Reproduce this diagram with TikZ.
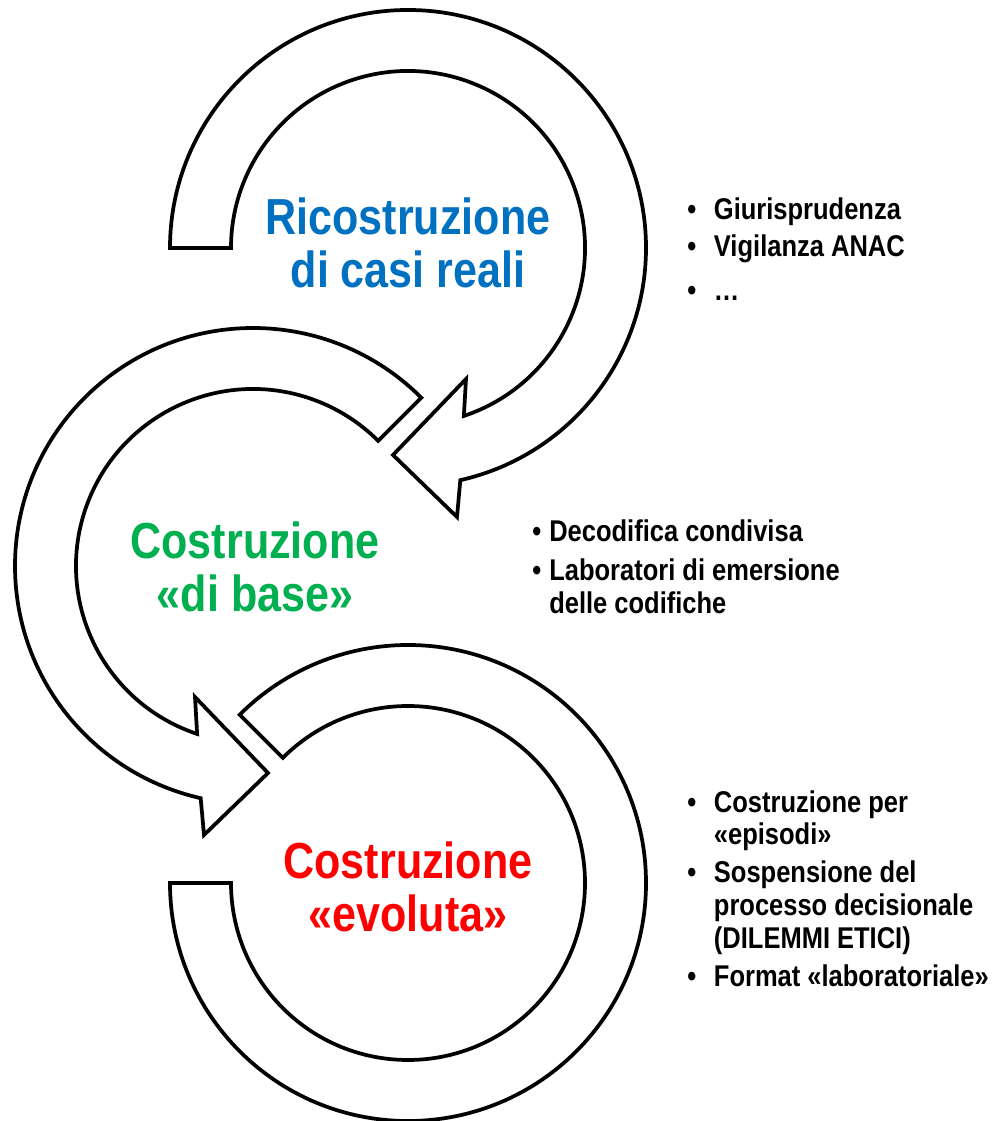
\documentclass[tikz,border=0pt]{standalone}
\usepackage{fontspec}
\setmainfont{Liberation Sans}
\newfontfamily\titlefont[FakeStretch=0.85]{Liberation Sans}
\newfontfamily\listfont[FakeStretch=0.85]{Liberation Sans}
\definecolor{ricblue}{RGB}{0,112,192}
\definecolor{basegreen}{RGB}{0,176,80}
\definecolor{evored}{RGB}{255,0,0}
\tikzset{
	x=0.75pt, y=0.75pt, % one unit is one pixel of the slide
	band/.style={draw, line width=2.8pt, fill=white, line join=miter}, % the circular block arrows
	title/.style={inner sep=0pt, align=center, font=\titlefont\bfseries\fontsize{38pt}{40pt}\selectfont}, % big text in the circles
	bullets/.style={inner sep=0pt, align=left, anchor=north west, font=\listfont\bfseries\fontsize{22.5pt}{24.5pt}\selectfont}, % lists on the right
}
\newcommand{\bul}[1]{\makebox[#1][l]{\textbullet}}

\begin{document}
\begin{tikzpicture}
	\useasboundingbox (0,0) rectangle (996,1121);
	\coordinate (c1) at (408,873);
	\coordinate (c2) at (253,555);
	\coordinate (c3) at (408,238);
	% first arrow: tail on the left, head at the bottom
	\draw[band, shift={(c1)}] (180:238) arc[start angle=180, end angle=-77.3, radius=238]
		-- (49,-269) -- (-15,-207) -- (58,-131) -- (-71.6:177)
		arc[start angle=-71.6, end angle=180, radius=177] -- cycle;
	% second arrow, mirrored
	\draw[band, shift={(c2)}] (45:238) arc[start angle=45, end angle=257.3, radius=238]
		-- (-49,-269) -- (15,-207) -- (-58,-131) -- (251.6:177)
		arc[start angle=251.6, end angle=45, radius=177] -- cycle;
	% third one has no head
	\draw[band, shift={(c3)}] (180:238) arc[start angle=180, end angle=495, radius=238]
		-- (495:177) arc[start angle=495, end angle=180, radius=177] -- cycle;
	\node[title, text=ricblue] (t1) at (408,878) {Ricostruzione\\di casi reali};
	\node[title, text=basegreen] (t2) at (255,554) {Costruzione\\«di base»};
	\node[title, text=evored] (t3) at (408,234) {Costruzione\\«evoluta»};
	\node[bullets] (l1) at (687,923) {\bul{20pt}Giurisprudenza\\[3.25pt]
		\bul{20pt}Vigilanza ANAC\\[8.5pt]
		\bul{20pt}…};
	\node[bullets] (l2) at (532,601) {\bul{12.75pt}Decodifica condivisa\\[4.5pt]
		\bul{12.75pt}Laboratori di emersione\\
		\hspace*{12.75pt}delle codifiche};
	\node[bullets] (l3) at (687,331) {\bul{20pt}Costruzione per\\
		\hspace*{20pt}«episodi»\\[4pt]
		\bul{20pt}Sospensione del\\
		\hspace*{20pt}processo decisionale\\
		\hspace*{20pt}(DILEMMI ETICI)\\[4pt]
		\bul{20pt}Format «laboratoriale»};
\end{tikzpicture}
\end{document}
